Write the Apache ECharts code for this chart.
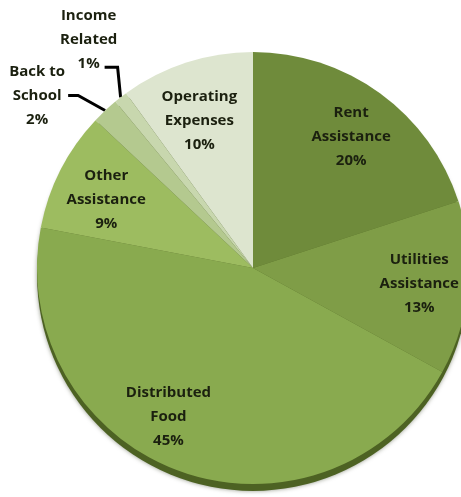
<!DOCTYPE html>
<html>
<head>
<meta charset="utf-8">
<script src="https://cdn.jsdelivr.net/npm/echarts@6/dist/echarts.min.js"></script>
<style>
html,body{margin:0;padding:0;background:#fff;}
#chart{width:461px;height:497px;}
</style>
</head>
<body>
<div id="chart"></div>
<script>
const categories = ['Rent Assistance', 'Utilities Assistance', 'Distributed Food', 'Other Assistance', 'Back to School', 'Income Related', 'Operating Expenses'];
const values = [20, 13, 45, 9, 2, 1, 10];
const labelTexts = ['Rent\nAssistance', 'Utilities\nAssistance', 'Distributed\nFood', 'Other\nAssistance', 'Back to\nSchool', 'Income\nRelated', 'Operating\nExpenses'];
const outsideLabels = ['Back to School', 'Income Related'];

const colors = ['#6f8b3b', '#7f9d47', '#89aa4f', '#9dbc60', '#b4c98f', '#c8d7ae', '#dde5cf'];
const labelNudge = { 'Rent Assistance': [0, 4], 'Other Assistance': [2, 8], 'Operating Expenses': [-2, 12], 'Distributed Food': [-28, -8] };
const textColor = '#1b200f';
const font = { fontFamily: 'Open Sans', fontWeight: 'bold', fontSize: 15, color: textColor };

const total = values.reduce((a, b) => a + b, 0);
const center = [253, 268];
const R = 216;

function labelFor(i) {
  return labelTexts[i] + '\n' + values[i] + '%';
}

const mainData = categories.map((c, i) => {
  const isOut = outsideLabels.indexOf(c) >= 0;
  return {
    name: c,
    value: values[i],
    itemStyle: { color: colors[i] },
    label: {
      show: isOut,
      formatter: '{a|' + labelFor(i).split('\n').join('}\n{a|') + '}'
    },
    labelLine: { show: isOut }
  };
});

const overlayData = categories.map((c, i) => {
  const isOut = outsideLabels.indexOf(c) >= 0;
  return {
    name: c,
    value: values[i],
    label: { show: !isOut, formatter: labelFor(i), offset: labelNudge[c] || [0, 0] }
  };
});

const chart = echarts.init(document.getElementById('chart'), null, { renderer: 'canvas' });
chart.setOption({
  animation: false,
  backgroundColor: '#ffffff',
  series: [
    {
      name: 'rim',
      type: 'pie',
      silent: true,
      center: [center[0], center[1] + 7],
      radius: R,
      startAngle: 90,
      z: 1,
      label: { show: false },
      labelLine: { show: false },
      itemStyle: { color: '#4d6223', shadowBlur: 4, shadowColor: 'rgba(40,50,20,0.5)' },
      data: [{ name: 'total', value: total }]
    },
    {
      name: 'Budget',
      type: 'pie',
      center: center,
      radius: R,
      startAngle: 90,
      clockwise: true,
      z: 2,
      avoidLabelOverlap: false,
      itemStyle: { borderWidth: 0 },
      label: {
        position: 'outside',
        distanceToLabelLine: 3,
        rich: { a: Object.assign({ width: 58, align: 'center', lineHeight: 24 }, font) }
      },
      labelLine: {
        length: 30,
        length2: 10,
        smooth: false,
        lineStyle: { color: '#000000', width: 3 }
      },
      labelLayout: function (p) {
        const name = categories[p.dataIndex];
        if (outsideLabels.indexOf(name) < 0 || !p.labelLinePoints) return {};
        const a = p.labelLinePoints[0];
        if (name === 'Back to School') {
          const b = [a[0] - 27, a[1] - 15];
          const c = [b[0] - 10, b[1]];
          return { x: c[0] - 2, y: c[1], align: 'right', verticalAlign: 'middle', labelLinePoints: [a, b, c] };
        }
        const b = [a[0] - 3, a[1] - 30];
        const c = [b[0] - 13, b[1]];
        return { x: c[0] - 16, y: c[1] + 8, align: 'center', verticalAlign: 'bottom', labelLinePoints: [a, b, c] };
      },
      data: mainData
    },
    {
      name: 'labels',
      type: 'pie',
      silent: true,
      center: center,
      radius: [112, R],
      startAngle: 90,
      clockwise: true,
      z: 3,
      itemStyle: { color: 'rgba(0,0,0,0)' },
      label: Object.assign({ position: 'inside', lineHeight: 24, align: 'center' }, font),
      labelLine: { show: false },
      emphasis: { disabled: true },
      data: overlayData
    }
  ]
});
</script>
</body>
</html>
